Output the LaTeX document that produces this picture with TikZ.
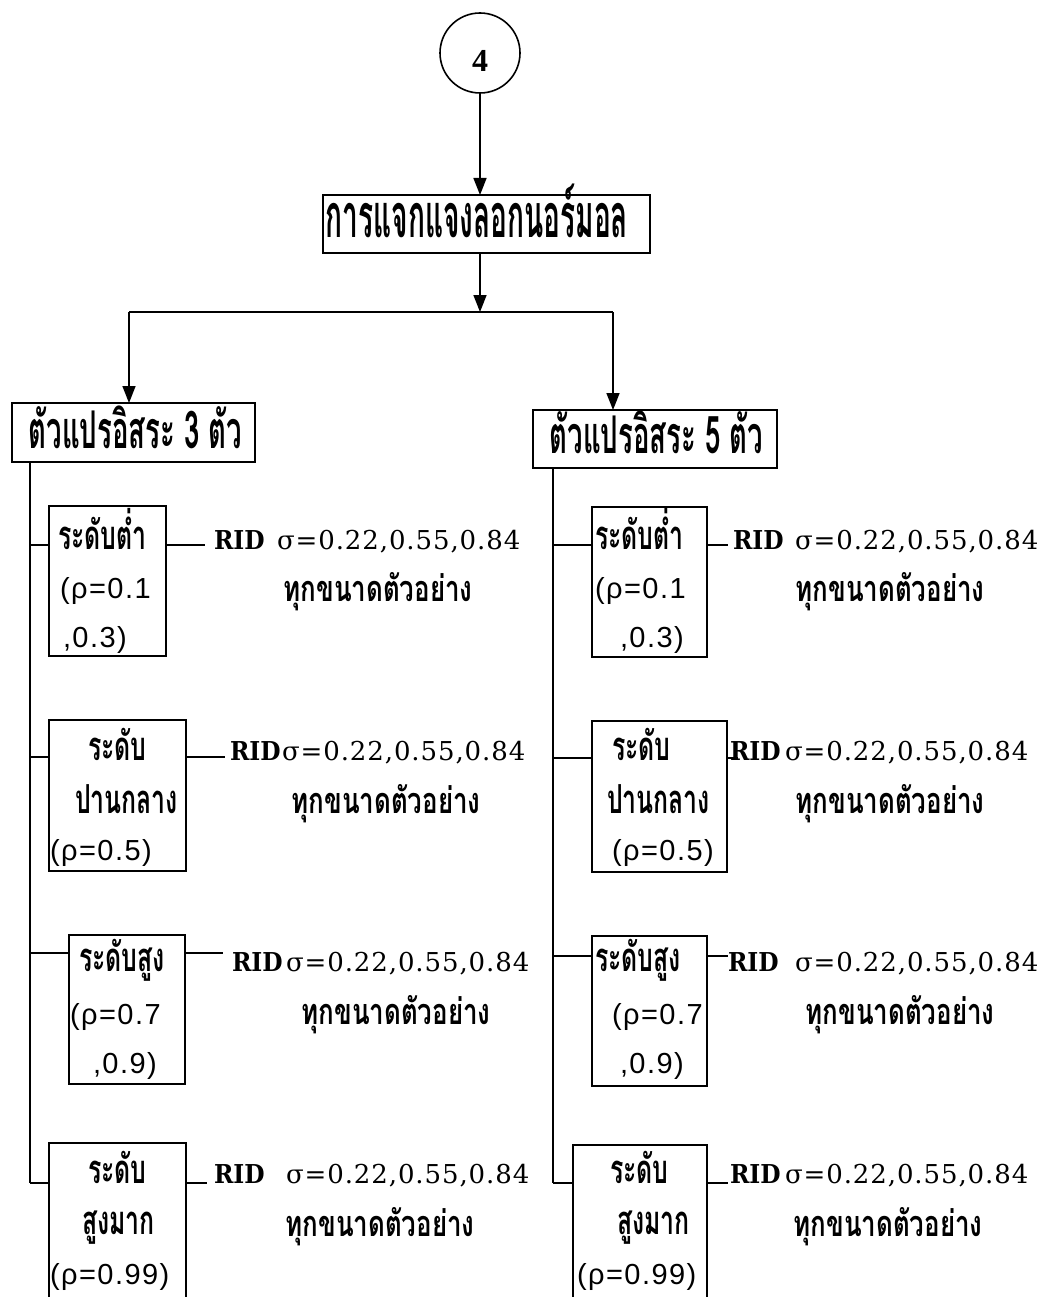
\documentclass[tikz,border=0pt]{standalone}
\usepackage{fontspec}
\usetikzlibrary{arrows.meta,calc}
\newfontfamily\thaiA[Script=Thai,FakeStretch=0.46]{Loma}
\newfontfamily\thaiB[Script=Thai,FakeStretch=0.53]{Loma}
\newfontfamily\thaiC[Script=Thai,FakeStretch=0.62]{Loma}
\newfontfamily\thaiD[Script=Thai,FakeStretch=0.72]{Loma}
\newfontfamily\latS[LetterSpace=5]{Liberation Sans}
\newfontfamily\numS[LetterSpace=3.5]{DejaVu Serif}
\newfontfamily\ridS[FakeStretch=0.9]{DejaVu Serif}
\newfontfamily\circS{Liberation Serif}
\begin{document}
\begin{tikzpicture}[x=1pt,y=-1pt,line width=1.6pt,
  every node/.style={inner sep=0pt,outer sep=0pt},
  frame/.style={draw,rectangle,line width=1.6pt},
  arr/.style={-{Triangle[width=13pt,length=17pt]}},
  thm/.style={font=\thaiA\bfseries\fontsize{61}{61}\selectfont},
  thc/.style={font=\thaiB\bfseries\fontsize{52}{52}\selectfont},
  tbx/.style={font=\thaiC\bfseries\fontsize{40}{40}\selectfont,anchor=base west},
  rho/.style={font=\latS\fontsize{29}{29}\selectfont,anchor=base west},
  rid/.style={font=\ridS\bfseries\fontsize{26}{26}\selectfont,anchor=base west},
  sig/.style={font=\numS\fontsize{26}{26}\selectfont,anchor=base west},
  trw/.style={font=\thaiD\bfseries\fontsize{36}{36}\selectfont,anchor=base},
  ]
\path[use as bounding box] (0,0) rectangle (1038,1297);
\clip (0,0) rectangle (1038,1297);

% top
\node[circle,draw,minimum size=80pt] (c4) at (480,53) {};
\node[font=\circS\bfseries\fontsize{32}{32}\selectfont,anchor=base] (n4) at (480,72) {4};
\node[frame,minimum width=327pt,minimum height=58pt] (m) at (486.5,224) {};
\node[thm,anchor=base] (mt) at (477,238) {การแจกแจงลอกนอร์มอล};
\draw[arr] (c4.south) -- (c4.south |- m.north);
\coordinate (j) at (480,312);
\coordinate (jl) at (129,312);
\coordinate (jr) at (613,312);
\draw[arr] (j |- m.south) -- (j);
\draw (jl) -- (jr);

\node[frame,minimum width=243pt,minimum height=59pt] (L) at (133.5,432.5) {};
\node[frame,minimum width=244pt,minimum height=58pt] (R) at (655,439) {};
\node[thc,anchor=base] (Lt) at (135.5,448) {ตัวแปรอิสระ 3 ตัว};
\node[thc,anchor=base] (Rt) at (656.5,453) {ตัวแปรอิสระ 5 ตัว};
\draw[arr] (jl) -- (jl |- L.north);
\draw[arr] (jr) -- (jr |- R.north);

% spines
\coordinate (sl) at (30,1183);
\coordinate (sr) at (553,1183);
\draw (L.south -| sl) -- (sl);
\draw (R.south -| sr) -- (sr);

% left boxes
\node[frame,minimum width=117pt,minimum height=150pt] (LB1) at (107.5,581) {};
\node[frame,minimum width=137pt,minimum height=151pt] (LB2) at (117.5,795.5) {};
\node[frame,minimum width=116pt,minimum height=149pt] (LB3) at (127,1009.5) {};
\node[frame,minimum width=137pt,minimum height=177pt] (LB4) at (117.5,1231.5) {};
% right boxes
\node[frame,minimum width=115pt,minimum height=150pt] (RB1) at (649.5,582) {};
\node[frame,minimum width=135pt,minimum height=151pt] (RB2) at (659.5,796.5) {};
\node[frame,minimum width=115pt,minimum height=150pt] (RB3) at (649.5,1011) {};
\node[frame,minimum width=134pt,minimum height=175pt] (RB4) at (640,1232.5) {};

% box texts left
\node[tbx] (LB1a) at (58,549) {ระดับต่ำ};
\node[rho] (LB1b) at (60,598) {(ρ=0.1};
\node[rho] (LB1c) at (63,647) {,0.3)};
\node[tbx] (LB2a) at (88,760) {ระดับ};
\node[tbx] (LB2b) at (75,813) {ปานกลาง};
\node[rho] (LB2c) at (50,860) {(ρ=0.5)};
\node[tbx] (LB3a) at (79,971) {ระดับสูง};
\node[rho] (LB3b) at (70,1024) {(ρ=0.7};
\node[rho] (LB3c) at (93,1073) {,0.9)};
\node[tbx] (LB4a) at (88,1183) {ระดับ};
\node[tbx] (LB4b) at (82,1234) {สูงมาก};
\node[rho] (LB4c) at (50,1284) {(ρ=0.99)};
% box texts right
\node[tbx] (RB1a) at (595,549) {ระดับต่ำ};
\node[rho] (RB1b) at (595,598) {(ρ=0.1};
\node[rho] (RB1c) at (620,647) {,0.3)};
\node[tbx] (RB2a) at (612,760) {ระดับ};
\node[tbx] (RB2b) at (607,813) {ปานกลาง};
\node[rho] (RB2c) at (612,860) {(ρ=0.5)};
\node[tbx] (RB3a) at (595,971) {ระดับสูง};
\node[rho] (RB3b) at (612,1024) {(ρ=0.7};
\node[rho] (RB3c) at (620,1073) {,0.9)};
\node[tbx] (RB4a) at (610,1183) {ระดับ};
\node[tbx] (RB4b) at (617,1234) {สูงมาก};
\node[rho] (RB4c) at (577,1284) {(ρ=0.99)};

% stubs
\coordinate (ls1) at (30,545);  \draw (ls1) -- (ls1 -| LB1.west);
\coordinate (ls2) at (30,757);  \draw (ls2) -- (ls2 -| LB2.west);
\coordinate (ls3) at (30,953);  \draw (ls3) -- (ls3 -| LB3.west);
\coordinate (ls4) at (30,1183); \draw (ls4) -- (ls4 -| LB4.west);
\coordinate (rs1) at (553,545);  \draw (rs1) -- (rs1 -| RB1.west);
\coordinate (rs2) at (553,758);  \draw (rs2) -- (rs2 -| RB2.west);
\coordinate (rs3) at (553,956);  \draw (rs3) -- (rs3 -| RB3.west);
\coordinate (rs4) at (553,1183); \draw (rs4) -- (rs4 -| RB4.west);

% row texts left
\node[rid] (LR1) at (214,549) {RID};
\node[sig] (LS1) at (277,549) {σ=0.22,0.55,0.84};
\node[trw] (LT1) at (378,601) {ทุกขนาดตัวอย่าง};
\node[rid] (LR2) at (230,760) {RID};
\node[sig] (LS2) at (282,760) {σ=0.22,0.55,0.84};
\node[trw] (LT2) at (386,813) {ทุกขนาดตัวอย่าง};
\node[rid] (LR3) at (232,971) {RID};
\node[sig] (LS3) at (286,971) {σ=0.22,0.55,0.84};
\node[trw] (LT3) at (396,1024) {ทุกขนาดตัวอย่าง};
\node[rid] (LR4) at (214,1183) {RID};
\node[sig] (LS4) at (286,1183) {σ=0.22,0.55,0.84};
\node[trw] (LT4) at (380,1236) {ทุกขนาดตัวอย่าง};
% row texts right
\node[rid] (RR1) at (733,549) {RID};
\node[sig] (RS1) at (795,549) {σ=0.22,0.55,0.84};
\node[trw] (RT1) at (890,601) {ทุกขนาดตัวอย่าง};
\node[rid] (RR2) at (730,760) {RID};
\node[sig] (RS2) at (785,760) {σ=0.22,0.55,0.84};
\node[trw] (RT2) at (890,813) {ทุกขนาดตัวอย่าง};
\node[rid] (RR3) at (728,971) {RID};
\node[sig] (RS3) at (795,971) {σ=0.22,0.55,0.84};
\node[trw] (RT3) at (900,1024) {ทุกขนาดตัวอย่าง};
\node[rid] (RR4) at (730,1183) {RID};
\node[sig] (RS4) at (785,1183) {σ=0.22,0.55,0.84};
\node[trw] (RT4) at (888,1236) {ทุกขนาดตัวอย่าง};

% connectors box -> RID
\coordinate (le1) at (205,545);  \draw (le1 -| LB1.east) -- (le1);
\coordinate (le2) at (225,757);  \draw (le2 -| LB2.east) -- (le2);
\coordinate (le3) at (223,953);  \draw (le3 -| LB3.east) -- (le3);
\coordinate (le4) at (207,1183); \draw (le4 -| LB4.east) -- (le4);
\coordinate (re1) at (728,545);  \draw (re1 -| RB1.east) -- (re1);
\coordinate (re2) at (738,758);  \draw (re2 -| RB2.east) -- (re2);
\coordinate (re3) at (728,956);  \draw (re3 -| RB3.east) -- (re3);
\coordinate (re4) at (728,1183); \draw (re4 -| RB4.east) -- (re4);
\end{tikzpicture}
\end{document}
